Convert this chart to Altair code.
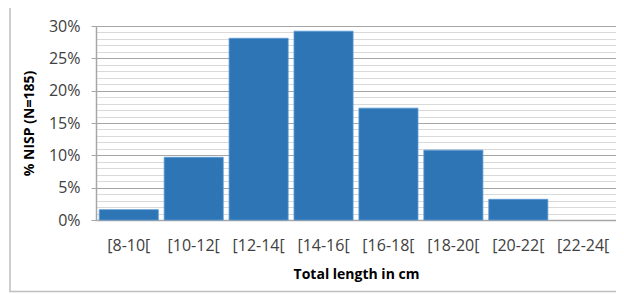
import altair as alt
import pandas as pd

categories = ["[8-10[", "[10-12[", "[12-14[", "[14-16[", "[16-18[", "[18-20[", "[20-22[", "[22-24["]
percent = [1.6, 9.7, 28.1, 29.2, 17.3, 10.8, 3.2, 0.0]
y_ticks = list(range(0, 31))

df = pd.DataFrame({"cat": categories, "pct": percent})

FONT = "Open Sans"
GRID_MAJOR = "#a6a6a6"
GRID_MINOR = "#d9d9d9"

border = alt.Chart(pd.DataFrame({"frame": [0]})).mark_rect(
    fillOpacity=0, stroke="#bfbfbf", strokeWidth=1.5
).encode(
    x=alt.value(-86), x2=alt.value(560), y=alt.value(-20.5), y2=alt.value(265.5)
)

bars = alt.Chart(df).mark_bar(color="#2E75B6", stroke="#5B9BD5", strokeWidth=0.8).encode(
    x=alt.X(
        "cat:N", sort=categories, title="Total length in cm",
        scale=alt.Scale(paddingInner=0.09, paddingOuter=0.05),
        axis=alt.Axis(labelAngle=0, ticks=False, domainColor=GRID_MAJOR, domainWidth=1.5,
                      labelFont=FONT, labelFontSize=16, labelColor="#404040", labelPadding=17,
                      titleFont=FONT, titleFontSize=14, titleFontWeight="bold", titleColor="#000000",
                      titlePadding=14),
    ),
    y=alt.Y(
        "pct:Q", title="% NISP (N=185)",
        scale=alt.Scale(domain=[0, 30], nice=False),
        axis=alt.Axis(
            values=y_ticks, grid=True, labelOverlap=False,
            gridColor={"condition": {"test": "datum.value % 5 === 0", "value": GRID_MAJOR}, "value": GRID_MINOR},
            tickOpacity={"condition": {"test": "datum.value % 5 === 0", "value": 1}, "value": 0},
            labelExpr="datum.value % 5 === 0 ? datum.value + '%' : ''",
            tickColor=GRID_MAJOR, tickSize=5, domainColor=GRID_MAJOR, domainWidth=1.5,
            labelFont=FONT, labelFontSize=16, labelColor="#404040", labelPadding=11,
            titleFont=FONT, titleFontSize=14, titleFontWeight="bold", titleColor="#000000",
            titlePadding=12,
        ),
    ),
    strokeOpacity=alt.condition("datum.pct > 0", alt.value(1), alt.value(0)),
)

chart = alt.layer(border, bars).properties(
    width=520, height=194,
    autosize=alt.AutoSizeParams(type="none"),
    padding={"left": 88, "top": 18, "right": 0, "bottom": 74},
).configure_view(stroke=None).configure(background="white")

chart.save("out.html", embed_options={"renderer": "svg", "actions": False})
